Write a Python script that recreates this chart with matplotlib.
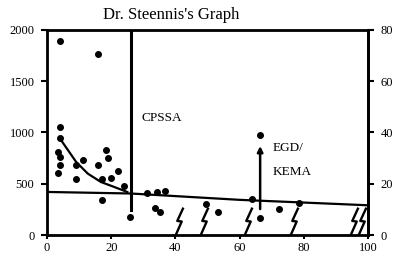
#!/usr/bin/env python
# -*- coding: utf-8 -*-

"""
Dr. Steennis's Graph
"""

import matplotlib
matplotlib.use('Agg')
import matplotlib.pyplot as plt
from matplotlib.path import Path

# scatter points
pt_x = [4, 16, 4, 4, 3.5, 4, 4, 3.3, 9.1, 9.1, 11.2, 18.4, 19.1, 16, 17, 19.9, 22.2, 24, 17, 26,
        31.2, 34.3, 36.8, 33.8, 35.1, 49.6, 53.4, 63.8, 66.4, 72.3, 78.5, 66.4]
pt_y = [1893, 1767, 1058, 942, 809, 760, 680, 605, 680, 550, 728, 832, 750, 680, 550, 560, 624, 476, 340, 178,
        411, 420, 430, 259, 226, 307, 226, 350, 162, 250, 315, 980]

# decay curve
curve_x = [4, 6.6, 9.1, 12.7, 16.8, 20.9, 25]
curve_y = [942, 825, 712, 599, 517, 469, 420]

# base line
base_x = [0, 26, 60, 100]
base_y = [420, 405, 343, 290]

# break marks
break_x = [41, 49, 62.5, 77, 95.5, 98]
break_y = 140

# CPSSA vertical line / EGD arrow
cpssa_x = 26.3
egd_x = 66.4
egd_from = 226
egd_to = 895

left_ticks = [0, 500, 1000, 1500, 2000]
right_ticks = [0, 20, 40, 60, 80]
bottom_ticks = [0, 20, 40, 60, 80, 100]

plt.rcParams['font.family'] = ['Liberation Serif', 'DejaVu Serif']

fig = plt.figure(figsize=(3.97, 2.57), dpi=100)
ax = fig.add_axes([47 / 397, 22 / 257, 321 / 397, 205 / 257])
ax.set_xlim(0, 100)
ax.set_ylim(0, 2000)

# points
ax.plot(pt_x, pt_y, 'o', color='black', markersize=4, zorder=5)
# curve and base line
ax.plot(curve_x, curve_y, '-', color='black', linewidth=1.6)
ax.plot(base_x, base_y, '-', color='black', linewidth=1.6)
# CPSSA line
ax.plot([cpssa_x, cpssa_x], [240, 2000], '-', color='black', linewidth=2.2)
# EGD/KEMA arrow
ax.annotate('', xy=(egd_x, egd_to), xytext=(egd_x, egd_from),
            arrowprops=dict(arrowstyle='-|>', color='black', lw=1.8, mutation_scale=8))

# break marks (zigzag)
bolt = Path([(0.14, 0.5), (-0.08, 0.02), (0.08, 0.0), (-0.14, -0.5)],
            [Path.MOVETO, Path.LINETO, Path.LINETO, Path.LINETO])
ax.plot(break_x, [break_y] * len(break_x), linestyle='none', marker=bolt, markersize=20,
        markeredgecolor='black', markerfacecolor='none', markeredgewidth=1.7)

# texts
ax.text(29.5, 1140, 'CPSSA', fontsize=9.5, va='center', ha='left')
ax.text(70.4, 850, 'EGD/', fontsize=9.5, va='center', ha='left')
ax.text(70.4, 615, 'KEMA', fontsize=9.5, va='center', ha='left')
fig.text(171 / 397, 1 - 15 / 257, "Dr. Steennis's Graph", fontsize=12, ha='center', va='center')

# axes style
for side in ['left', 'right', 'top', 'bottom']:
    ax.spines[side].set_linewidth(2)
ax.set_xticks(bottom_ticks)
ax.set_yticks(left_ticks)
ax.tick_params(axis='y', direction='out', length=4, width=1.5, labelsize=9, pad=5)
ax.tick_params(axis='x', direction='out', length=3, width=1.5, labelsize=9, pad=2)

ax2 = ax.twinx()
ax2.set_ylim(0, 80)
ax2.set_yticks(right_ticks)
ax2.spines['right'].set_linewidth(2)
ax2.tick_params(axis='y', direction='out', length=4, width=1.5, labelsize=9, pad=5)

plt.savefig('out.png', dpi=100)
